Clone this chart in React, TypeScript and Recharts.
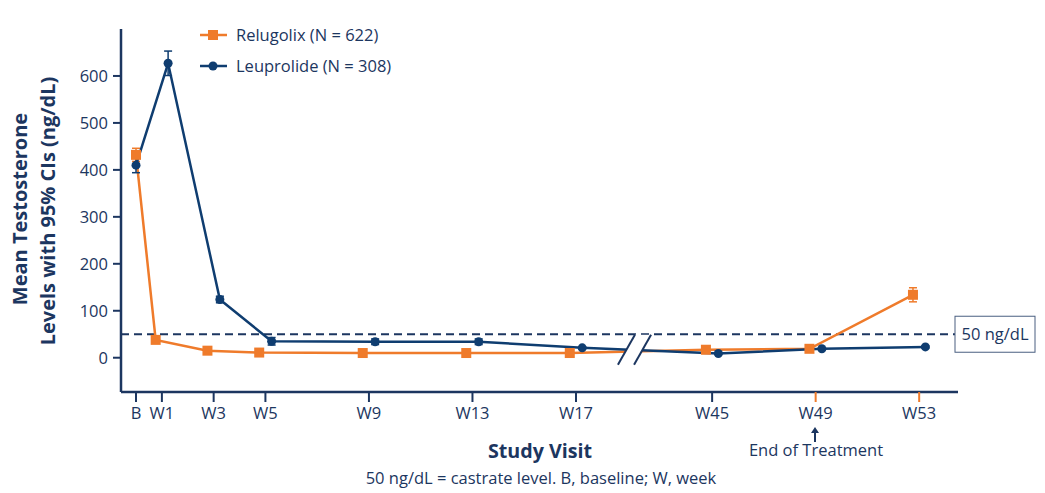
import React from "react";
import { ErrorBar, Line, LineChart, ReferenceArea, ReferenceLine, XAxis, YAxis } from "recharts";

const ORANGE = "#ef7b2b";
const BLUE = "#0f3d70";
const NAVY = "#1c3660";
const FONT = "'Open Sans', sans-serif";
const TEXT_SIZE = 16.5;

// study visits (weeks after baseline) and their tick labels
const visitWeeks = [0, 1, 3, 5, 9, 13, 17, 45, 49, 53];
const visitLabels = ["B", "W1", "W3", "W5", "W9", "W13", "W17", "W45", "W49", "W53"];

// mean testosterone (ng/dL) and 95% CI half-widths
const relugolixMean = [432, 38, 15, 11, 10, 10, 10, 17, 19, 134];
const relugolixCi = [14, 2, 2, 2, 1, 1, 1, 2, 2, 15];
const leuprolideMean = [410, 627, 124, 35, 34, 34, 21, 9, 19, 23];
const leuprolideCi = [16, 26, 7, 8, 6, 6, 2, 2, 2, 2];

const yTicks = [0, 100, 200, 300, 400, 500, 600];
const castrateLevel = 50;

// the axis skips weeks 18-44, so later visits are shifted left
const SKIPPED_WEEKS = 22.74;
const toAxis = (week: number) => (week > 30 ? week - SKIPPED_WEEKS : week);
const DODGE = 0.24;

const buildSeries = (means: number[], ci: number[], side: number) =>
  visitWeeks.map((week, i) => ({
    x: toAxis(week) + (week === 0 ? 0 : side * DODGE),
    mean: means[i],
    ci: ci[i],
  }));

const relugolixData = buildSeries(relugolixMean, relugolixCi, -1);
const leuprolideData = buildSeries(leuprolideMean, leuprolideCi, 1);
const tickPositions = visitWeeks.map(toAxis);

function VisitTick({ x, y, payload }: any) {
  const idx = tickPositions.findIndex((p) => Math.abs(p - payload.value) < 1e-6);
  const week = visitWeeks[idx];
  const tickColor = week >= 49 ? ORANGE : NAVY;
  return (
    <g>
      <line x1={x} x2={x} y1={y} y2={y + 10} stroke={tickColor} strokeWidth={2} />
      <text x={x} y={y + 27} textAnchor="middle" fill={NAVY} fontSize={TEXT_SIZE} fontFamily={FONT}>
        {visitLabels[idx]}
      </text>
    </g>
  );
}

function BreakMark({ x, y, width, height }: any) {
  const slant = 17;
  return (
    <g>
      <polygon
        points={`${x},${y + height} ${x + slant},${y} ${x + width},${y} ${x + width - slant},${y + height}`}
        fill="#ffffff"
      />
      <line x1={x} y1={y + height} x2={x + slant} y2={y} stroke={NAVY} strokeWidth={2} />
      <line x1={x + width - slant} y1={y + height} x2={x + width} y2={y} stroke={NAVY} strokeWidth={2} />
    </g>
  );
}

function CastrateLabel({ viewBox }: any) {
  const left = viewBox.x + viewBox.width - 3;
  const cy = viewBox.y;
  return (
    <g>
      <rect x={left} y={cy - 18} width={80} height={36} fill="#ffffff" stroke="#4a5f80" strokeWidth={1} />
      <text x={left + 40} y={cy + 6} textAnchor="middle" fill={NAVY} fontSize={TEXT_SIZE} fontFamily={FONT}>
        {castrateLevel} ng/dL
      </text>
    </g>
  );
}

export default function App() {
  return (
    <div style={{ position: "absolute", left: 0, top: 0, width: 1045, height: 493, background: "#fff" }}>
      <LineChart width={1045} height={493} margin={{ top: 29, right: 87, bottom: 0, left: 0 }}>
        <XAxis
          type="number"
          dataKey="x"
          domain={[-0.58, 31.76]}
          allowDataOverflow
          ticks={tickPositions}
          interval={0}
          height={101}
          tickLine={false}
          tickSize={0}
          tickMargin={0}
          tick={<VisitTick />}
          axisLine={{ stroke: NAVY, strokeWidth: 2.5 }}
        />
        <YAxis
          type="number"
          domain={[-73, 700]}
          ticks={yTicks}
          width={121}
          tickSize={8}
          tickMargin={5}
          tickLine={{ stroke: NAVY, strokeWidth: 2 }}
          axisLine={{ stroke: NAVY, strokeWidth: 2.5 }}
          tick={{ fill: NAVY, fontSize: TEXT_SIZE, fontFamily: FONT }}
        />
        <ReferenceLine
          y={castrateLevel}
          stroke={NAVY}
          strokeWidth={2}
          strokeDasharray="8 5"
          label={<CastrateLabel />}
        />
        <Line
          data={relugolixData}
          dataKey="mean"
          stroke={ORANGE}
          strokeWidth={2.5}
          dot={(p: any) => (
            <rect key={p.index} x={p.cx - 5} y={p.cy - 5} width={10} height={10} fill={ORANGE} />
          )}
          isAnimationActive={false}
        >
          <ErrorBar dataKey="ci" direction="y" width={4} stroke={ORANGE} strokeWidth={1.5} />
        </Line>
        <Line
          data={leuprolideData}
          dataKey="mean"
          stroke={BLUE}
          strokeWidth={2.5}
          dot={{ r: 4.5, fill: BLUE, stroke: BLUE, strokeWidth: 0 }}
          isAnimationActive={false}
        >
          <ErrorBar dataKey="ci" direction="y" width={4} stroke={BLUE} strokeWidth={1.5} />
        </Line>
        <ReferenceArea x1={18.62} x2={19.9} y1={-15} y2={49} zIndex={1000} shape={<BreakMark />} />
      </LineChart>

      <svg
        width={1045}
        height={493}
        style={{ position: "absolute", left: 0, top: 0, pointerEvents: "none" }}
        fontFamily={FONT}
      >
        {/* legend */}
        <line x1={200} x2={227} y1={35} y2={35} stroke={ORANGE} strokeWidth={2.5} />
        <rect x={208} y={30} width={10} height={10} fill={ORANGE} />
        <text x={236} y={41} fill={NAVY} fontSize={TEXT_SIZE}>Relugolix (N = 622)</text>
        <line x1={200} x2={227} y1={66} y2={66} stroke={BLUE} strokeWidth={2.5} />
        <circle cx={213} cy={66} r={4.5} fill={BLUE} />
        <text x={236} y={72} fill={NAVY} fontSize={TEXT_SIZE}>Leuprolide (N = 308)</text>

        {/* axis titles */}
        <text
          transform="translate(27 209) rotate(-90)"
          textAnchor="middle"
          fill={NAVY}
          fontSize={20}
          fontWeight="bold"
        >
          Mean Testosterone
        </text>
        <text
          transform="translate(55 211) rotate(-90)"
          textAnchor="middle"
          fill={NAVY}
          fontSize={20}
          fontWeight="bold"
        >
          Levels with 95% CIs (ng/dL)
        </text>
        <text x={540} y={458} textAnchor="middle" fill={NAVY} fontSize={19.7} fontWeight="bold">
          Study Visit
        </text>
        <text x={541} y={484} textAnchor="middle" fill={NAVY} fontSize={TEXT_SIZE}>
          50 ng/dL = castrate level. B, baseline; W, week
        </text>

        {/* end of treatment marker under W49 */}
        <line x1={815} x2={815} y1={432} y2={442} stroke={NAVY} strokeWidth={2} />
        <polygon points="811,433 819,433 815,427" fill={NAVY} />
        <text x={816} y={456} textAnchor="middle" fill={NAVY} fontSize={TEXT_SIZE}>
          End of Treatment
        </text>
      </svg>
    </div>
  );
}
